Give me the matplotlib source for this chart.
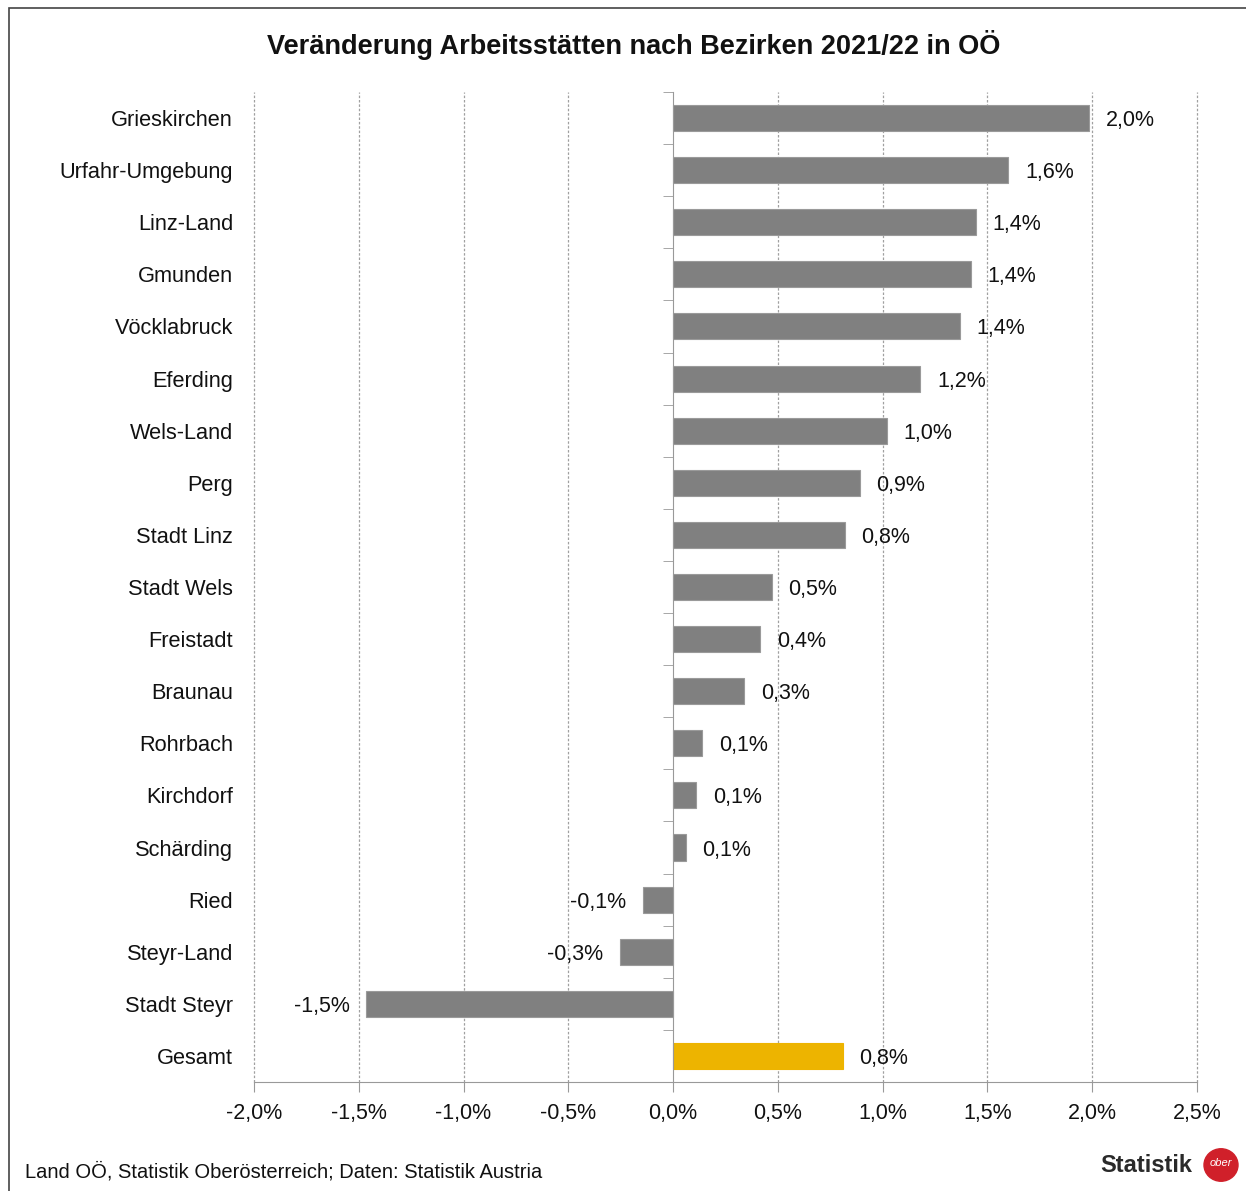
import matplotlib.pyplot as plt
import numpy as np
from matplotlib.patches import Rectangle, Circle
from matplotlib.transforms import blended_transform_factory

plt.rcParams['font.family'] = ['Liberation Sans', 'DejaVu Sans']

# Daten
bezirke = ["Grieskirchen", "Urfahr-Umgebung", "Linz-Land", "Gmunden", "Vöcklabruck",
           "Eferding", "Wels-Land", "Perg", "Stadt Linz", "Stadt Wels", "Freistadt",
           "Braunau", "Rohrbach", "Kirchdorf", "Schärding", "Ried", "Steyr-Land",
           "Stadt Steyr", "Gesamt"]
veraenderung = [1.985, 1.60, 1.445, 1.42, 1.37, 1.18, 1.02, 0.89, 0.82, 0.47, 0.415,
                0.34, 0.14, 0.11, 0.06, -0.145, -0.255, -1.465, 0.81]
x_ticks = [-2.0, -1.5, -1.0, -0.5, 0.0, 0.5, 1.0, 1.5, 2.0, 2.5]

W, H = 1246, 1191
fig = plt.figure(figsize=(W / 100, H / 100), dpi=100)
ax = fig.add_axes([254 / W, 1 - 1082 / H, (1197 - 254) / W, (1082 - 92) / H])

farben = ['#808080'] * (len(bezirke) - 1) + ['#EDB400']
kanten = ['#9a9a9a'] * (len(bezirke) - 1) + ['#EDB400']
y = np.arange(len(bezirke))
ax.barh(y, veraenderung, height=0.5, color=farben, edgecolor=kanten, linewidth=0.8, zorder=3)

ax.set_xlim(-2.0, 2.5)
ax.set_ylim(len(bezirke) - 0.5, -0.5)

# Werte neben den Balken
def fmt(v):
    return f"{v:.1f}".replace('.', ',') + '%'

for yi, v in zip(y, veraenderung):
    if v >= 0:
        ax.annotate(fmt(v), (v, yi), xytext=(12, 0), textcoords='offset points',
                    ha='left', va='center_baseline', fontsize=15.5, color='#111111', zorder=4)
    else:
        ax.annotate(fmt(v), (v, yi), xytext=(-12, 0), textcoords='offset points',
                    ha='right', va='center_baseline', fontsize=15.5, color='#111111', zorder=4)

# Kategorienbeschriftung links
trans = blended_transform_factory(ax.transAxes, ax.transData)
for yi, name in zip(y, bezirke):
    ax.text(-21 / (1197 - 254), yi, name, transform=trans, ha='right', va='center_baseline',
            fontsize=15.7, color='#111111')

# Achsen
ax.set_xticks(x_ticks)
ax.set_xticklabels([fmt(t) for t in x_ticks], fontsize=15.5, color='#111111')
ax.tick_params(axis='x', length=7, color='#999999', pad=8)
ax.set_yticks([])
ax.set_yticks(np.arange(-0.5, len(bezirke), 1), minor=True)
ax.tick_params(axis='y', which='minor', length=7, color='#999999', labelleft=False)

ax.spines['left'].set_position(('data', 0))
ax.spines['left'].set_color('#999999')
ax.spines['left'].set_zorder(5)
ax.spines['bottom'].set_color('#999999')
ax.spines['top'].set_visible(False)
ax.spines['right'].set_visible(False)

for t in x_ticks:
    if t != 0:
        ax.axvline(t, color='#a0a0a0', linestyle=(0, (2, 1.5)), linewidth=0.9, zorder=1,
                   clip_on=False)

# Titel und Quelle
fig.text(634 / W, 1 - 45 / H, "Veränderung Arbeitsstätten nach Bezirken 2021/22 in OÖ",
         ha='center', va='center', fontsize=19.5, fontweight='bold', color='#111111')
fig.text(25 / W, 1 - 1172 / H, "Land OÖ, Statistik Oberösterreich; Daten: Statistik Austria",
         ha='left', va='center', fontsize=14.5, color='#111111')

# Logo
fig.text(1192 / W, 1 - 1166 / H, "Statistik", ha='right', va='center',
         fontsize=17, fontweight='bold', color='#2a2a2a')
fig.add_artist(Circle((1221 / W, 1 - 1165 / H), 17 / W, transform=fig.transFigure,
                      color='#d0202a', zorder=5))
fig.text(1221 / W, 1 - 1163 / H, "ober", ha='center', va='center', fontsize=8,
         style='italic', color='white', zorder=6)

# Rahmen
fig.add_artist(Rectangle((9 / W, -0.01), 1.0, 1 - 8 / H + 0.01, transform=fig.transFigure,
                         fill=False, edgecolor='#444444', linewidth=1.2))

fig.savefig('out.png', dpi=100)
